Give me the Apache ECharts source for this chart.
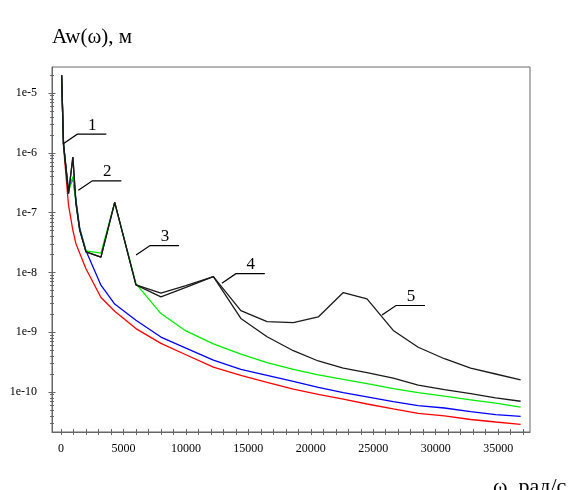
<!DOCTYPE html>
<html><head><meta charset="utf-8">
<script src="https://cdn.jsdelivr.net/npm/echarts@6/dist/echarts.min.js"></script>
<style>html,body{margin:0;padding:0;background:#fff}#c{width:571px;height:490px}</style>
</head><body><div id="c"></div>
<script>
// ω, rad/s (shared sampling for all curves)
const omega = [50, 200, 600, 950, 1200, 1500, 2000, 3200, 4300, 6000, 8000, 10000, 12200, 14400, 16500, 18600, 20600, 22600, 24500, 26600, 28600, 30700, 32800, 34800, 36800];
// Aw(ω), m
const curve1 = [1.98e-5, 1.3e-6, 1.35e-7, 5.1e-8, 3.0e-8, 2.1e-8, 1.15e-8, 3.8e-9, 2.24e-9, 1.15e-9, 6.5e-10, 4.2e-10, 2.6e-10, 1.9e-10, 1.45e-10, 1.12e-10, 9.1e-11, 7.6e-11, 6.3e-11, 5.2e-11, 4.4e-11, 4.0e-11, 3.47e-11, 3.15e-11, 2.88e-11];
const curve2 = [1.98e-5, 1.42e-6, 2.4e-7, 3.8e-7, 1.6e-7, 5.5e-8, 2.3e-8, 6.1e-9, 2.95e-9, 1.58e-9, 8.3e-10, 5.4e-10, 3.4e-10, 2.4e-10, 1.9e-10, 1.5e-10, 1.2e-10, 9.8e-11, 8.3e-11, 6.9e-11, 5.9e-11, 5.4e-11, 4.7e-11, 4.2e-11, 3.9e-11];
const curve3 = [1.98e-5, 1.42e-6, 2.2e-7, 4.0e-7, 1.45e-7, 5.2e-8, 2.3e-8, 2.1e-8, 1.48e-7, 6.5e-9, 2.05e-9, 1.05e-9, 6.4e-10, 4.3e-10, 3.1e-10, 2.4e-10, 1.94e-10, 1.62e-10, 1.38e-10, 1.14e-10, 9.8e-11, 8.5e-11, 7.4e-11, 6.5e-11, 5.6e-11];
const curve4 = [1.98e-5, 1.42e-6, 2.07e-7, 8.5e-7, 1.43e-7, 5.1e-8, 2.2e-8, 1.8e-8, 1.48e-7, 6.2e-9, 3.9e-9, 5.6e-9, 8.5e-9, 1.7e-9, 8.4e-10, 4.9e-10, 3.3e-10, 2.5e-10, 2.1e-10, 1.7e-10, 1.3e-10, 1.1e-10, 9.4e-11, 8.0e-11, 7.0e-11];
const curve5 = [1.98e-5, 1.42e-6, 2.07e-7, 8.5e-7, 1.43e-7, 5.1e-8, 2.2e-8, 1.8e-8, 1.48e-7, 6.2e-9, 4.5e-9, 6.0e-9, 8.5e-9, 2.3e-9, 1.5e-9, 1.45e-9, 1.8e-9, 4.6e-9, 3.6e-9, 1.07e-9, 5.6e-10, 3.6e-10, 2.5e-10, 2.0e-10, 1.6e-10];
const curveColors = ['#ff0000', '#0000ff', '#00ee00', '#1a1a1a', '#1a1a1a'];
// curve number labels and the point on the curve each leader points to
const labelTexts = ['1', '2', '3', '4', '5'];
const labelOmega = [185, 1390, 6010, 12880, 25700];
const labelValue = [1.42e-6, 2.36e-7, 1.95e-8, 6.6e-9, 1.94e-9];
// axis ticks
const xLabelValues = [0, 5000, 10000, 15000, 20000, 25000, 30000, 35000];
const xTickStep = 1000;
const yLabelExponents = [-10, -9, -8, -7, -6, -5];
const titleText = 'Aw(ω), м';
const xNameText = 'ω, рад/с';

const Y_MIN = -10.669, Y_MAX = -4.565;
const X_MIN = -720, X_MAX = 37550;
const FONT = '"Liberation Serif", "Times New Roman", serif';
const AXC = '#666';

const xTicks = [];
for (let v = 0; v <= X_MAX; v += xTickStep) xTicks.push(v);
const yMajor = yLabelExponents.slice();
const yAll = [];
for (let e = -11; e <= -5; e++) for (let k = 1; k <= 9; k++) {
  const lv = Math.log10(k) + e;
  if (lv >= Y_MIN && lv <= Y_MAX) yAll.push(lv);
}

function yAx(ticks, len, inside, showLabel, showLine) {
  return {
    type: 'value', min: Y_MIN, max: Y_MAX, position: 'left', gridIndex: 0,
    axisLine: { show: showLine, onZero: false, lineStyle: { color: AXC, width: 1 } },
    axisTick: { show: true, inside: inside, length: len, customValues: ticks, lineStyle: { color: AXC } },
    axisLabel: { show: showLabel, customValues: yMajor, formatter: v => '1e' + Math.round(v),
      fontFamily: FONT, fontSize: 12, color: '#000', margin: 15 },
    splitLine: { show: false }
  };
}
function xAx(len, inside, showLabel, showLine) {
  return {
    type: 'value', min: X_MIN, max: X_MAX, position: 'bottom', gridIndex: 0,
    axisLine: { show: showLine, onZero: false, lineStyle: { color: AXC, width: 1 } },
    axisTick: { show: true, inside: inside, length: len, customValues: xTicks, lineStyle: { color: AXC } },
    axisLabel: { show: showLabel, customValues: xLabelValues, formatter: v => String(Math.round(v)),
      fontFamily: FONT, fontSize: 12, color: '#000', margin: 11 },
    splitLine: { show: false }
  };
}

const chart = echarts.init(document.getElementById('c'), null, { renderer: 'canvas' });
const curves = [curve1, curve2, curve3, curve4, curve5];
chart.setOption({
  animation: false,
  backgroundColor: '#fff',
  grid: { left: 52, right: 41, top: 67, bottom: 58, show: true, borderColor: AXC, borderWidth: 1, backgroundColor: 'transparent' },
  xAxis: [xAx(3, false, true, true), xAx(3, true, false, false)],
  yAxis: [yAx(yAll, 2, false, true, true), yAx(yAll, 2, true, false, false), yAx(yMajor, 3.5, false, false, false), yAx(yMajor, 3.5, true, false, false)],
  series: curves.map((c, i) => ({
    type: 'line', xAxisIndex: 0, yAxisIndex: 0, symbol: 'none', showSymbol: false, z: 2 + i,
    lineStyle: { color: curveColors[i], width: 1.3 },
    data: omega.map((w, j) => [w, Math.log10(c[j])])
  }))
});

const g = [];
g.push({ type: 'text', left: 52, top: 27, style: { text: titleText, font: '21px ' + FONT, fill: '#000' } });
g.push({ type: 'text', left: 493, top: 476, style: { text: xNameText, font: '22px ' + FONT, fill: '#000' } });
labelTexts.forEach((t, i) => {
  const p = chart.convertToPixel({ gridIndex: 0 }, [labelOmega[i], Math.log10(labelValue[i])]);
  const a = [p[0], p[1]], b = [p[0] + 14, p[1] - 9.5], c = [p[0] + 43, p[1] - 9.5];
  g.push({ type: 'polyline', shape: { points: [a, b, c] }, style: { stroke: '#000', lineWidth: 1.2, fill: null }, z: 20 });
  g.push({ type: 'text', x: p[0] + 29, y: p[1] - 18.5, style: { text: t, font: '17px ' + FONT, fill: '#000', align: 'center', verticalAlign: 'middle' }, z: 20 });
});
chart.setOption({ graphic: g });
</script></body></html>
